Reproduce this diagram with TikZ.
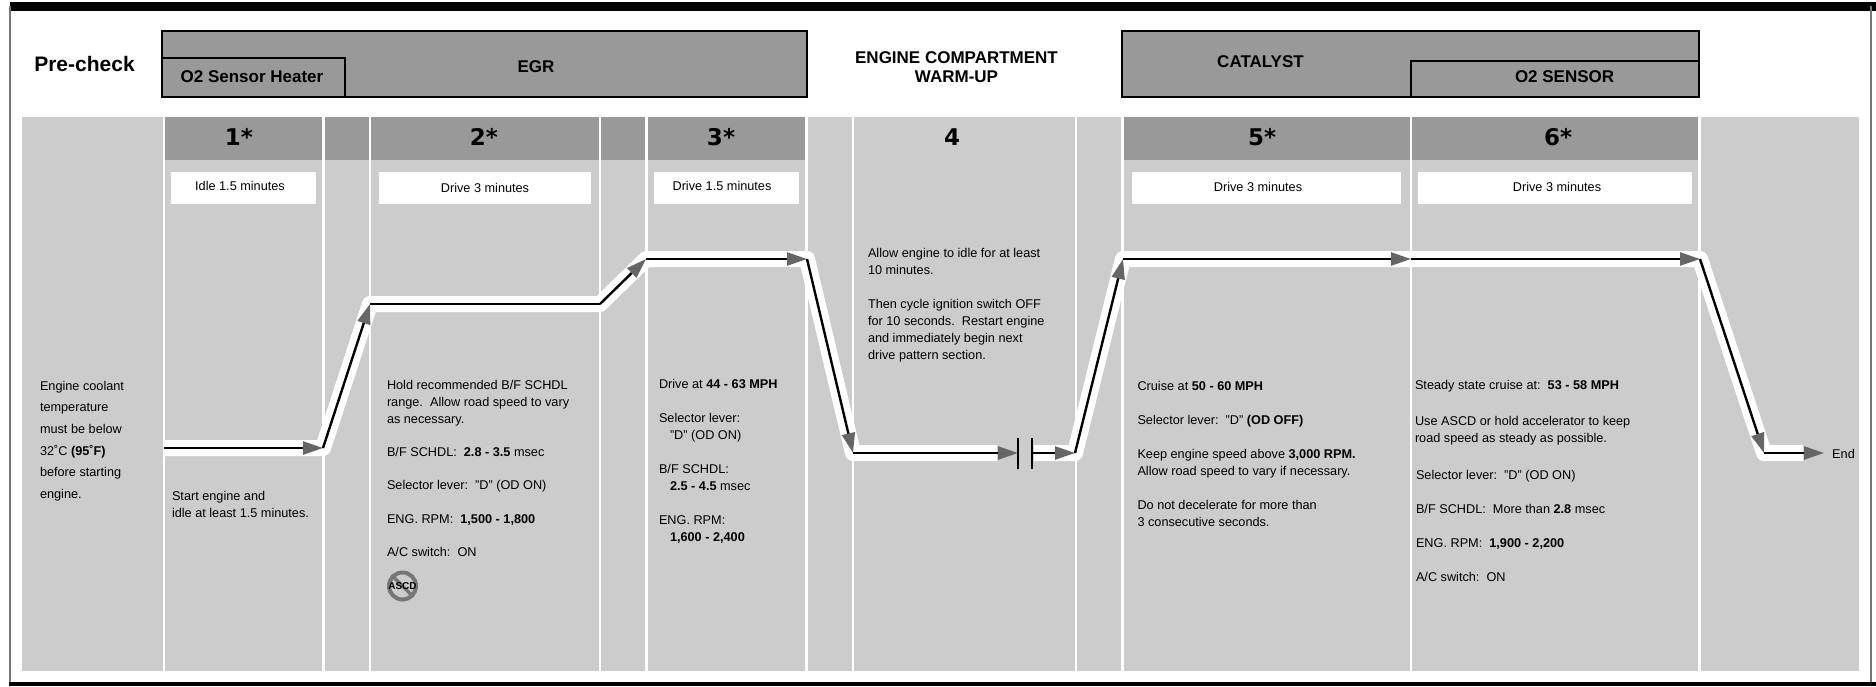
\documentclass[tikz,border=0pt]{standalone}
\usepackage{fontspec}
\setmainfont{Liberation Sans}
\newfontfamily\numfont{DejaVu Sans}
\usetikzlibrary{arrows.meta}
\definecolor{panelgray}{HTML}{CCCCCC}
\definecolor{bandgray}{HTML}{999999}
\definecolor{tipgray}{HTML}{666666}
\definecolor{framegray}{HTML}{777777}
\tikzset{
  txt/.style={inner sep=0pt,outer sep=0pt,anchor=north west,align=left,text=black,
    font=\fontsize{12.7}{17}\selectfont},
  wide/.style={font=\fontsize{12.7}{21.6}\selectfont},
  dur/.style={inner sep=0pt,anchor=center,text=black,font=\fontsize{12.7}{15}\selectfont},
  durbox/.style={fill=white,draw=none},
  hdrbox/.style={fill=bandgray,draw=black,line width=2.4pt},
  hdrtxt/.style={inner sep=0pt,anchor=center,align=center,font=\fontsize{17}{19}\selectfont\bfseries},
  num/.style={inner sep=0pt,anchor=center,font=\fontsize{23}{25}\numfont\bfseries},
  collin/.style={draw=white,line width=2.4pt},
  casing/.style={draw=white,line width=16pt,line join=round},
  flow/.style={draw=black,line width=2.4pt,line join=miter},
  flowtip/.style={flow,-{Triangle[length=20pt,width=13pt,color=tipgray,fill=tipgray]}},
  capbar/.style={draw=black,line width=2.4pt}
}
\begin{document}
\begin{tikzpicture}[x=1pt,y=-1pt]
\useasboundingbox (0,0) rectangle (1876,686);
\fill[white] (0,0) rectangle (1876,686);
% frame
\fill[black] (10,2) rectangle (1876,11);
\fill[black] (9,682) rectangle (1876,686);
\draw[framegray,line width=2pt] (10,6) -- (10,682);
\draw[framegray,line width=2pt] (1871,6) -- (1871,682);
% panel
\fill[panelgray] (22,117) rectangle (1859,671);
\fill[bandgray] (164,117) rectangle (806,160);
\fill[bandgray] (1123,117) rectangle (1700,160);
\foreach \cx in {164,323.5,370,600,646.5,806.5,853,1076,1122.5,1411,1699.5}
  \draw[collin] (\cx,117) -- (\cx,671);
% top header boxes
\draw[hdrbox] (162,31) rectangle (807,97);
\draw[hdrbox] (162,58) rectangle (345,97);
\draw[hdrbox] (1122,31) rectangle (1699,97);
\draw[hdrbox] (1411,61) rectangle (1699,97);
\node[hdrtxt,font=\fontsize{21}{22}\selectfont\bfseries] (precheck) at (84.5,64) {Pre-check};
\node[hdrtxt] (heater) at (252,77) {O2 Sensor Heater};
\node[hdrtxt] (egr) at (536,67) {EGR};
\node[hdrtxt] (warm) at (956.5,67) {ENGINE COMPARTMENT\\WARM-UP};
\node[hdrtxt] (catalyst) at (1260.5,62) {CATALYST};
\node[hdrtxt] (o2s) at (1564.6,77) {O2 SENSOR};
% step numbers
\node[num] (n1) at (239,137) {1*};
\node[num] (n2) at (484,137) {2*};
\node[num] (n3) at (721,137) {3*};
\node[num] (n4) at (952,137) {4};
\node[num] (n5) at (1262,137) {5*};
\node[num] (n6) at (1558,137) {6*};
% duration boxes
\fill[durbox] (171,172) rectangle (316,204);
\fill[durbox] (379,172) rectangle (591,204);
\fill[durbox] (654,172) rectangle (799,204);
\fill[durbox] (1131.5,172) rectangle (1401,204);
\fill[durbox] (1418,172) rectangle (1692,204);
\node[dur] (d1) at (240,186) {Idle 1.5 minutes};
\node[dur] (d2) at (485,188) {Drive 3 minutes};
\node[dur] (d3) at (722,186) {Drive 1.5 minutes};
\node[dur] (d5) at (1258,187) {Drive 3 minutes};
\node[dur] (d6) at (1557,187) {Drive 3 minutes};
% speed trace
\coordinate (a) at (164,448);
\coordinate (b) at (323,448);
\coordinate (c) at (370,304);
\coordinate (d) at (600,304);
\coordinate (e) at (646,259);
\coordinate (f) at (807,259);
\coordinate (g) at (853,453);
\coordinate (h0) at (997,453);
\coordinate (h) at (1018,453);
\coordinate (i0) at (1034,453);
\coordinate (i) at (1032,453);
\coordinate (j) at (1075,453);
\coordinate (k) at (1123,259);
\coordinate (l) at (1411,259);
\coordinate (m) at (1700,259);
\coordinate (n) at (1764,453);
\coordinate (o0) at (1803,453);
\coordinate (o) at (1824,453);
\coordinate (bar1t) at (1018,438);
\coordinate (bar1b) at (1018,469);
\coordinate (bar2t) at (1032,438);
\coordinate (bar2b) at (1032,469);
\draw[casing] (a) -- (b) -- (c) -- (d) -- (e) -- (f) -- (g) -- (h0);
\draw[casing] (i0) -- (j) -- (k) -- (m) -- (n) -- (o0);
\draw[flowtip] (a) -- (b);
\draw[flowtip] (b) -- (c);
\draw[flow] (c) -- (d);
\draw[flowtip] (d) -- (e);
\draw[flowtip] (e) -- (f);
\draw[flowtip] (f) -- (g);
\draw[flowtip] (g) -- (h);
\draw[flowtip] (i) -- (j);
\draw[flowtip] (j) -- (k);
\draw[flowtip] (k) -- (l);
\draw[flowtip] (l) -- (m);
\draw[flowtip] (m) -- (n);
\draw[flowtip] (n) -- (o);
\draw[capbar] (bar1t) -- (bar1b);
\draw[capbar] (bar2t) -- (bar2b);
\node[dur,anchor=west] (endlbl) at (1832,454) {End};
% column texts
\node[txt,wide] (t0) at (40,375.2) {\strut Engine coolant\\temperature\\must be below\\32˚C \textbf{(95˚F)}\\before starting\\engine.};
\node[txt] (t1) at (172,488.6) {\strut Start engine and\\idle at least 1.5 minutes.};
\node[txt] (t2) at (387,377.2) {\strut Hold recommended B/F SCHDL\\range.\ \ Allow road speed to vary\\as necessary.\\[16pt]
 B/F SCHDL:\ \ \textbf{2.8 - 3.5} msec\\[16.5pt]
 Selector lever:\ \ "D" (OD ON)\\[16.5pt]
 ENG. RPM:\ \ \textbf{1,500 - 1,800}\\[16.5pt]
 A/C switch:\ \ ON};
\node[txt] (t3) at (659,376.6) {\strut Drive at \textbf{44 - 63 MPH}\\[17pt]
 Selector lever:\\\hspace*{11pt}"D" (OD ON)\\[17pt]
 B/F SCHDL:\\\hspace*{11pt}\textbf{2.5 - 4.5} msec\\[17pt]
 ENG. RPM:\\\hspace*{11pt}\textbf{1,600 - 2,400}};
\node[txt] (t4) at (868,246) {\strut Allow engine to idle for at least\\10 minutes.\\[17pt]
 Then cycle ignition switch OFF\\for 10 seconds.\ \ Restart engine\\and immediately begin next\\drive pattern section.};
\node[txt] (t5) at (1137.5,378.6) {\strut Cruise at \textbf{50 - 60 MPH}\\[16.5pt]
 Selector lever:\ \ "D" \textbf{(OD OFF)}\\[17pt]
 Keep engine speed above \textbf{3,000 RPM.}\\Allow road speed to vary if necessary.\\[17pt]
 Do not decelerate for more than\\3 consecutive seconds.};
\node[txt] (t6) at (1415,377.6) {\strut Steady state cruise at:\ \ \textbf{53 - 58 MPH}\\[19pt]
 Use ASCD or hold accelerator to keep\\road speed as steady as possible.\\[20pt]
 \hspace*{1pt}Selector lever:\ \ "D" (OD ON)\\[17pt]
 \hspace*{1pt}B/F SCHDL:\ \ More than \textbf{2.8} msec\\[17pt]
 \hspace*{1pt}ENG. RPM:\ \ \textbf{1,900 - 2,200}\\[16.5pt]
 \hspace*{1pt}A/C switch:\ \ ON};
% no-ASCD sign
\node[circle,draw=framegray,line width=4pt,inner sep=0pt,minimum size=27pt] (noring) at (402.5,586) {};
\draw[framegray,line width=3.5pt] (noring.135) -- (noring.-45);
\node[inner sep=0pt,font=\fontsize{10}{11}\selectfont\bfseries] (ascd) at (noring.center) {ASCD};
\end{tikzpicture}
\end{document}
